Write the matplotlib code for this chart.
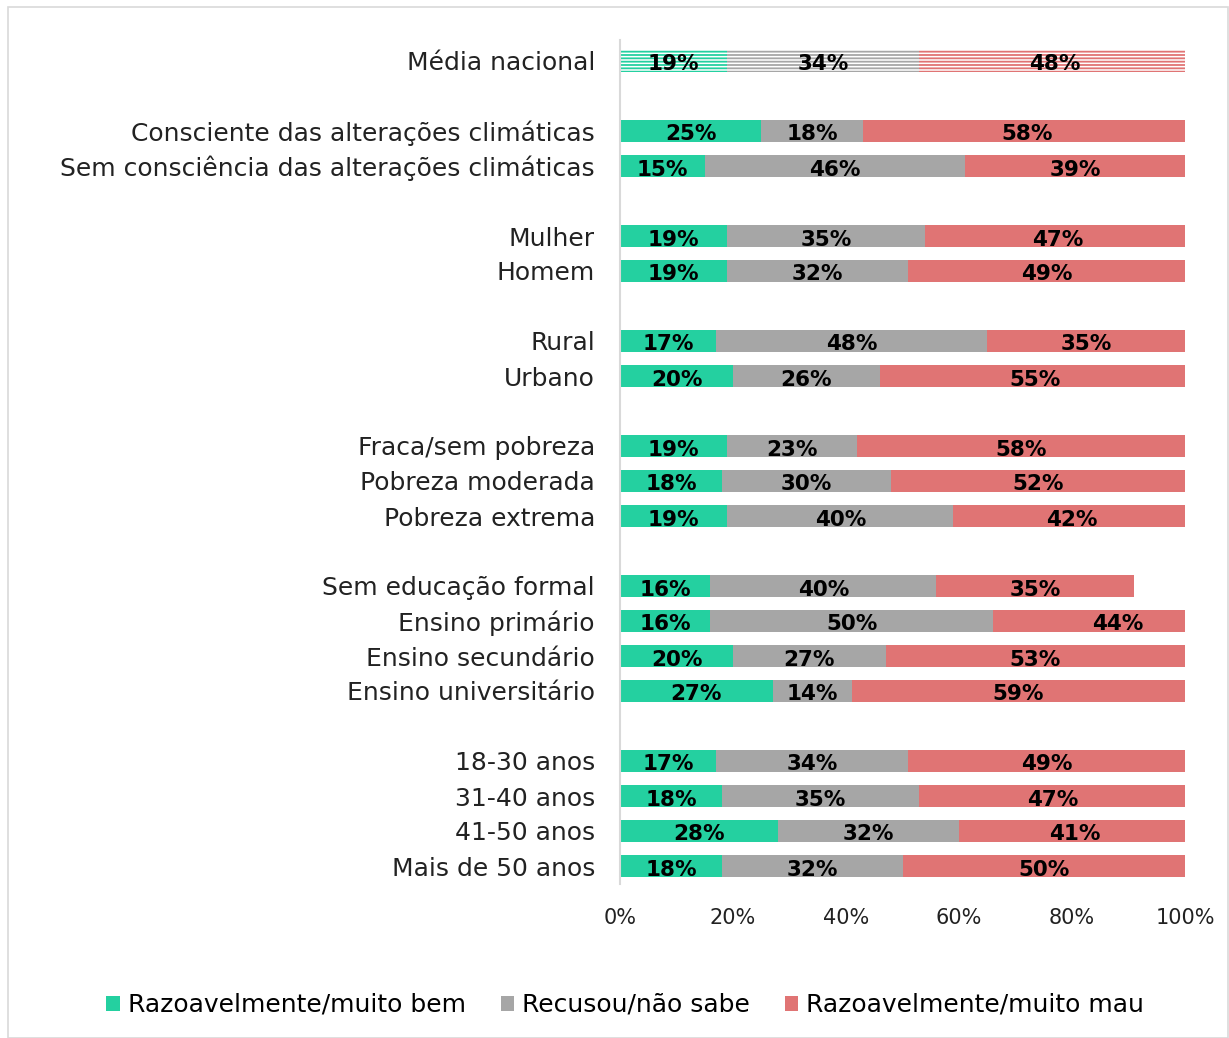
import matplotlib
matplotlib.use("Agg")
import matplotlib.pyplot as plt
from matplotlib.patches import Rectangle, Patch

categories = [
    "Média nacional", None,
    "Consciente das alterações climáticas", "Sem consciência das alterações climáticas", None,
    "Mulher", "Homem", None,
    "Rural", "Urbano", None,
    "Fraca/sem pobreza", "Pobreza moderada", "Pobreza extrema", None,
    "Sem educação formal", "Ensino primário", "Ensino secundário", "Ensino universitário", None,
    "18-30 anos", "31-40 anos", "41-50 anos", "Mais de 50 anos",
]
bem = [19, None, 25, 15, None, 19, 19, None, 17, 20, None, 19, 18, 19, None, 16, 16, 20, 27, None, 17, 18, 28, 18]
recusou = [34, None, 18, 46, None, 35, 32, None, 48, 26, None, 23, 30, 40, None, 40, 50, 27, 14, None, 34, 35, 32, 32]
mau = [48, None, 58, 39, None, 47, 49, None, 35, 55, None, 58, 52, 42, None, 35, 44, 53, 59, None, 49, 47, 41, 50]
series_names = ["Razoavelmente/muito bem", "Recusou/não sabe", "Razoavelmente/muito mau"]
colors = ["#24D0A0", "#A6A6A6", "#E07474"]
tick_labels = ["0%", "20%", "40%", "60%", "80%", "100%"]

FONT = "DejaVu Sans"
plt.rcParams["font.family"] = FONT
plt.rcParams["hatch.linewidth"] = 1.3

W, H = 1229, 1038
fig = plt.figure(figsize=(W / 100, H / 100), dpi=100)
ax = fig.add_axes([620 / W, 1 - 883.5 / H, (1185 - 620) / W, (883.5 - 40) / H])

ax.set_ylim(23.5, -0.6)
ax.set_xlim(0, 1)

bh = 0.63
for i, cat in enumerate(categories):
    if cat is None:
        continue
    left = 0.0
    for k, vals in enumerate([bem, recusou, mau]):
        v = vals[i] / 100
        if i == 0:
            ax.barh(i, v, left=left, height=bh, color="white", edgecolor=colors[k],
                    hatch="-----", linewidth=0)
        else:
            ax.barh(i, v, left=left, height=bh, color=colors[k], linewidth=0)
        ax.text(left + v / 2, i + 0.1, f"{vals[i]}%", ha="center", va="center",
                fontsize=15.5, fontweight="bold", color="black", clip_on=False)
        left += v

yt = [i for i, c in enumerate(categories) if c is not None]
ax.set_yticks(yt)
ax.set_yticklabels([categories[i] for i in yt], fontsize=18, color="#222222")
ax.set_xticks([0, 0.2, 0.4, 0.6, 0.8, 1.0])
ax.set_xticklabels(tick_labels, fontsize=15, color="#222222")
ax.tick_params(axis="both", length=0)
ax.tick_params(axis="y", pad=18)
ax.tick_params(axis="x", pad=18)
for s in ["top", "right", "bottom"]:
    ax.spines[s].set_visible(False)
ax.spines["left"].set_color("#D9D9D9")
ax.spines["left"].set_linewidth(1.5)

handles = [Patch(facecolor=c, edgecolor="none") for c in colors]
fig.legend(handles, series_names, loc="center", bbox_to_anchor=(625 / W, 1 - 1005 / H),
           ncol=3, frameon=False, fontsize=18, handlelength=0.55, handleheight=0.55,
           handletextpad=0.3, columnspacing=1.4)

fig.patches.append(Rectangle((8 / W, 0), (W - 9) / W, 1 - 7 / H, transform=fig.transFigure,
                             fill=False, edgecolor="#D9D9D9", linewidth=1.2))

fig.savefig("out.png", dpi=100)
